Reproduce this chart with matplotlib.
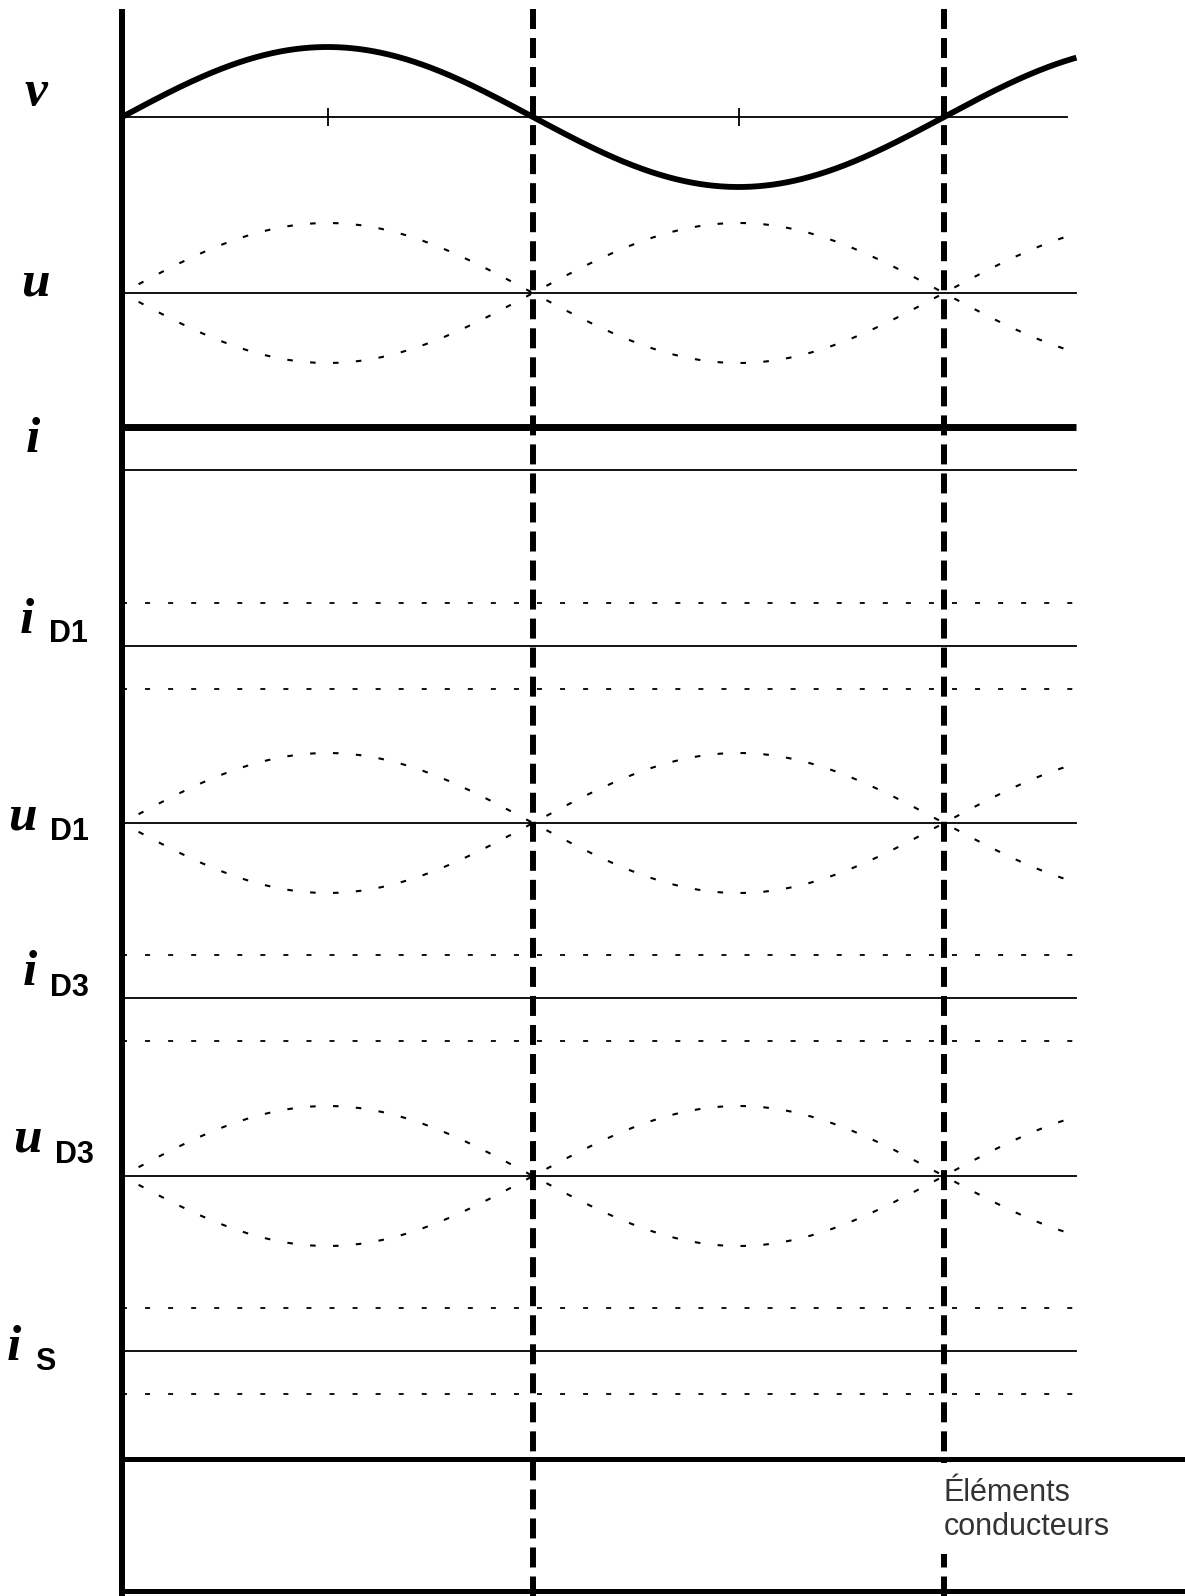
import numpy as np
import matplotlib.pyplot as plt
from matplotlib.patches import Rectangle

plt.rcParams['lines.scale_dashes'] = False

# angle axis in degrees (one period of the supply = 360)
commutations = [180, 360]
v_ticks = [90, 270]
theta_end = 418

# vertical layout of the traces (rows measured downward)
rows = ['v', 'u', 'i', 'iD1', 'uD1', 'iD3', 'uD3', 'iS']
baselines = [117, 293, 470, 646, 823, 998, 1176, 1351]
amp = 70        # sine amplitude
i_level = 43    # load current level
band_lines = [1459, 1591]
top = 9
bottom = 1596

labels = {
    'v': ('v', None, 25, 105, None, None),
    'u': ('u', None, 21, 295, None, None),
    'i': ('i', None, 26, 452, None, None),
    'iD1': ('i', 'D1', 20, 633, 49, 642),
    'uD1': ('u', 'D1', 8, 830, 50, 840),
    'iD3': ('i', 'D3', 23, 985, 50, 996),
    'uD3': ('u', 'D3', 13, 1151, 55, 1163),
    'iS': ('i', 'S', 7, 1360, 35, 1370),
}

W, H = 1185, 1596
px_per_deg = 411 / 180
x0 = 122

fig = plt.figure(figsize=(W / 100, H / 100), dpi=100)
ax = fig.add_axes([0, 0, 1, 1])
ax.set_xlim(-x0 / px_per_deg, (W - x0) / px_per_deg)
ax.set_ylim(H, 0)
ax.axis('off')

th = np.linspace(0, theta_end, 800)
s = np.sin(np.radians(th))
dotted = (3, (4, 12.5))
dashed = (0, (3.6, 13))
thin = 1.3

for name, y0 in zip(rows, baselines):
    if name == 'v':
        ax.plot([0, 414], [y0, y0], color='k', lw=thin)
        ax.vlines(v_ticks, y0 - 9, y0 + 9, color='k', lw=thin)
        ax.plot(th, y0 - amp * s, color='k', lw=4.2, solid_capstyle='butt')
    elif name.startswith('u'):
        ax.plot([0, 417.8], [y0, y0], color='k', lw=thin)
        m = th <= 416.5
        ax.plot(th[m], y0 - amp * np.abs(s[m]), color='k', lw=1.5, linestyle=dotted)
        ax.plot(th[m], y0 + amp * np.abs(s[m]), color='k', lw=1.5, linestyle=dotted)
    elif name == 'i':
        ax.plot([0, 417.8], [y0, y0], color='k', lw=thin)
        ax.plot([0, 417.8], [y0 - i_level, y0 - i_level], color='k', lw=5,
                solid_capstyle='butt')
    else:
        ax.plot([0, 417.8], [y0, y0], color='k', lw=thin)
        ax.hlines([y0 - i_level, y0 + i_level], 0, 417.8, color='k', lw=1.3,
                  linestyles=dashed)

# time axis, commutation instants and the conducting-elements band
ax.plot([0, 0], [top, bottom], color='k', lw=4.3, solid_capstyle='butt')
ax.vlines(commutations, top, bottom, color='k', lw=4.3, linestyles=(0, (14.4, 6.5)))
ax.hlines(band_lines, 0, (W - x0) / px_per_deg, color='k', lw=3.6)

for name in rows:
    main, sub, mx, my, sx, sy = labels[name]
    fig.text(mx / W, 1 - my / H, main, family='Liberation Serif', style='italic',
             weight='bold', fontsize=37, ha='left', va='baseline')
    if sub:
        fig.text(sx / W, 1 - sy / H, sub, family='Liberation Sans', weight='bold',
                 fontsize=22, ha='left', va='baseline')

# white box behind the band caption
fig.patches.append(Rectangle((936 / W, 1 - 1554 / H), 170 / W, 91 / H,
                             transform=fig.transFigure, facecolor='white',
                             edgecolor='none', zorder=3))
fig.text(944 / W, 1 - 1501 / H, 'Éléments', family='Liberation Sans', fontsize=22,
         color='#333333', ha='left', va='baseline', zorder=4)
fig.text(944 / W, 1 - 1535 / H, 'conducteurs', family='Liberation Sans', fontsize=22,
         color='#333333', ha='left', va='baseline', zorder=4)

fig.savefig('out.png', dpi=100)
